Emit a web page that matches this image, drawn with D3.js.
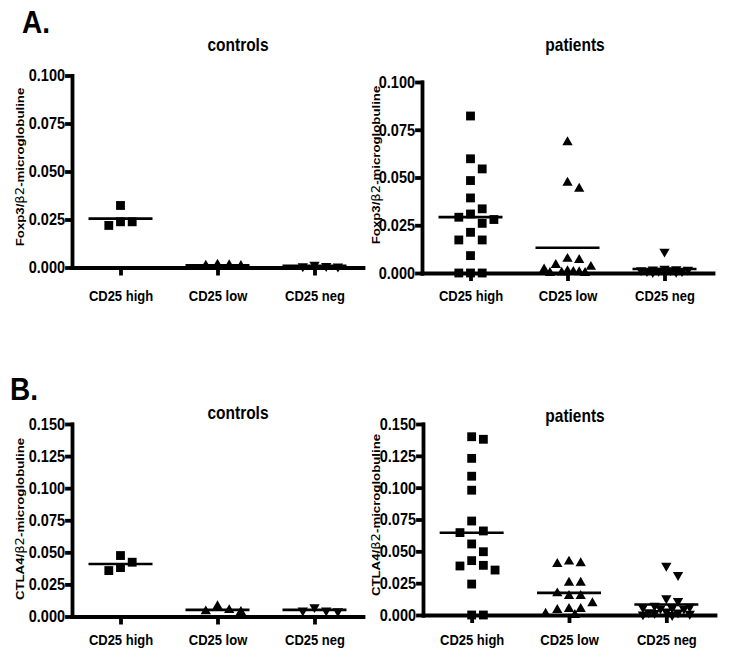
<!DOCTYPE html>
<html>
<head>
<meta charset="utf-8">
<script src="https://cdn.jsdelivr.net/npm/d3@7"></script>
<style>
  body { margin: 0; background: #fff; }
  svg { display: block; }
  text { font-family: "Liberation Sans", Arial, sans-serif; font-weight: bold; fill: #000; }
</style>
</head>
<body>
<svg id="chart" width="737" height="667"></svg>
<script>
// categories and tick labels
var groups = ["CD25 high", "CD25 low", "CD25 neg"];
var foxpTicks = [0, 0.025, 0.05, 0.075, 0.1];
var ctlaTicks = [0, 0.025, 0.05, 0.075, 0.1, 0.125, 0.15];

// A. Foxp3 / b2-microglobuline
var foxpCtrlHigh = [0.0323, 0.0238, 0.0219, 0.0238];
var foxpCtrlLow = [0.0008, 0.0010, 0.0012, 0.0014];
var foxpCtrlNeg = [0.0006, 0.0005, 0.0008, 0.0015];
var foxpPatHigh = [0.0822, 0.0598, 0.0545, 0.0484, 0.0393, 0.0336, 0.0309, 0.0292, 0.0280,
  0.0260, 0.0213, 0.0173, 0.0173, 0.0091, 0, 0, 0];
var foxpPatLow = [0.0685, 0.0473, 0.0441, 0.0074, 0.0068, 0.0042, 0.0032, 0.0018, 0.0010,
  0.0006, 0.0004, 0.0002, 0, 0];
var foxpPatNeg = [0.0112, 0.0022, 0.0020, 0.0018, 0.0017, 0.0015, 0.0014, 0.0012, 0.0010,
  0.0010, 0.0008, 0.0006, 0.0005];

// B. CTLA4 / b2-microglobuline
var ctlaCtrlHigh = [0.0423, 0.0475, 0.0358, 0.0381];
var ctlaCtrlLow = [0.0050, 0.0035, 0.0040, 0.0080];
var ctlaCtrlNeg = [0.0047, 0.0041, 0.0047, 0.0073];
var ctlaPatHigh = [0.140, 0.138, 0.123, 0.109, 0.098, 0.0738, 0.066, 0.0647, 0.0558, 0.0497,
  0.0427, 0.039, 0.0385, 0.0353, 0.0243, 0, 0];
var ctlaPatLow = [0.0419, 0.0406, 0.0401, 0.0254, 0.0254, 0.0170, 0.0149, 0.0149, 0.0092,
  0.0047, 0.0047, 0.0039, 0.0010, 0];
var ctlaPatNeg = [0.0387, 0.0314, 0.0131, 0.0110, 0.0073, 0.0065, 0.0060, 0.0055, 0.0052,
  0.0050, 0.0028, 0.0022, 0.0020, 0.0015, 0.0010, 0.0005, 0];

var svg = d3.select("#chart");
var stretch = "scale(1,1.15)";   // the original figure is slightly taller than wide

// panel layout
var panels = [
  { title: "controls", label: "Foxp3", max: 0.1, ticks: foxpTicks, series: [foxpCtrlHigh, foxpCtrlLow, foxpCtrlNeg],
    x0: 72, x1: 363, top: 75.5, bottom: 267.5, titleX: 238, titleY: 51, labX: 20, labY: 167, catY: 301 },
  { title: "patients", label: "Foxp3", max: 0.1, ticks: foxpTicks, series: [foxpPatHigh, foxpPatLow, foxpPatNeg],
    x0: 422, x1: 713, top: 82, bottom: 273, titleX: 575, titleY: 51, labX: 376, labY: 165, catY: 301 },
  { title: "controls", label: "CTLA4", max: 0.15, ticks: ctlaTicks, series: [ctlaCtrlHigh, ctlaCtrlLow, ctlaCtrlNeg],
    x0: 72, x1: 363, top: 424, bottom: 616.5, titleX: 238, titleY: 419, labX: 20, labY: 519, catY: 645 },
  { title: "patients", label: "CTLA4", max: 0.15, ticks: ctlaTicks, series: [ctlaPatHigh, ctlaPatLow, ctlaPatNeg],
    x0: 423, x1: 715, top: 424, bottom: 615, titleX: 575, titleY: 422, labX: 376, labY: 515, catY: 645 }
];

var symbols = [
  d3.symbol().type(d3.symbolSquare).size(78)(),
  d3.symbol().type(d3.symbolTriangle).size(46)(),
  d3.symbol().type(d3.symbolTriangle).size(46)()
];
var slotWidth = 11.7;
var slotOrder = [0, 1, -1, 2, -2, 0.5, -0.5, 1.5, -1.5];

// spread close values sideways into slots; when the row is full, take the least crowded slot
function dodge(values, y, gap) {
  var order = d3.range(values.length).sort(function(a, b) { return values[b] - values[a]; });
  var placed = [], slots = [];
  order.forEach(function(i) {
    var py = y(values[i]);
    var best = 0, bestDist = -1;
    for (var k = 0; k < slotOrder.length; k++) {
      var s = slotOrder[k];
      var near = d3.min(placed.filter(function(p) { return p.s === s; }), function(p) { return Math.abs(p.py - py); });
      if (near === undefined) near = Infinity;
      if (near >= gap) { best = s; bestDist = near; break; }
      if (near > bestDist) { best = s; bestDist = near; }
    }
    slots[i] = best;
    placed.push({ s: best, py: py });
  });
  return slots;
}

panels.forEach(function(p) {
  var g = svg.append("g");
  var x = d3.scalePoint().domain(groups).range([p.x0, p.x1]).padding(0.5);
  var y = d3.scaleLinear().domain([0, p.max]).range([p.bottom, p.top]);

  // y axis
  var ya = g.append("g")
    .attr("transform", "translate(" + p.x0 + ",0)")
    .call(d3.axisLeft(y).tickValues(p.ticks).tickFormat(d3.format(".3f")).tickSize(5).tickSizeOuter(0).tickPadding(2));
  ya.selectAll("path, line").style("stroke", "#000").style("stroke-width", "3.8px").style("stroke-linecap", "square");
  ya.selectAll("text").attr("font-size", 14.5).attr("transform", stretch);

  // x axis
  var xa = g.append("g")
    .attr("transform", "translate(0," + p.bottom + ")")
    .call(d3.axisBottom(x).tickSize(8).tickSizeOuter(0));
  xa.selectAll("path, line").style("stroke", "#000").style("stroke-width", "3.8px");
  xa.select(".domain").style("stroke-linecap", "square");
  xa.selectAll("text").attr("font-size", 13).attr("y", null).attr("dy", null)
    .attr("transform", "translate(0," + (p.catY - p.bottom) + ") " + stretch);

  // title
  g.append("text").attr("text-anchor", "middle").attr("font-size", 15.5)
    .attr("transform", "translate(" + p.titleX + "," + p.titleY + ") " + stretch)
    .text(p.title);

  // y label
  var lab = g.append("text").attr("text-anchor", "middle").attr("font-size", 11.5).attr("dy", "0.35em")
    .attr("transform", "translate(" + p.labX + "," + p.labY + ") " + stretch + " rotate(-90)");
  lab.append("tspan").text(p.label + "/");
  lab.append("tspan").attr("font-weight", "normal").attr("font-family", "DejaVu Sans").text("β2");
  lab.append("tspan").text("-microglobuline");

  // points and mean lines
  p.series.forEach(function(vals, gi) {
    var cx = x(groups[gi]);
    var slots = dodge(vals, y, 12);
    g.selectAll(null).data(vals).enter().append("path")
      .attr("d", symbols[gi])
      .attr("fill", "#000")
      .attr("transform", function(d, i) {
        return "translate(" + (cx + slots[i] * slotWidth) + "," + y(d) + ")" + (gi === 2 ? " rotate(180)" : "");
      });
    var m = d3.mean(vals);
    g.append("line")
      .attr("x1", cx - 32).attr("x2", cx + 32)
      .attr("y1", y(m)).attr("y2", y(m))
      .style("stroke", "#000").style("stroke-width", "2.6px");
  });
});

// panel letters
svg.append("text").attr("font-size", 28).attr("transform", "translate(22,33) " + stretch).text("A.");
svg.append("text").attr("font-size", 28).attr("transform", "translate(10,400) " + stretch).text("B.");
</script>
</body>
</html>
